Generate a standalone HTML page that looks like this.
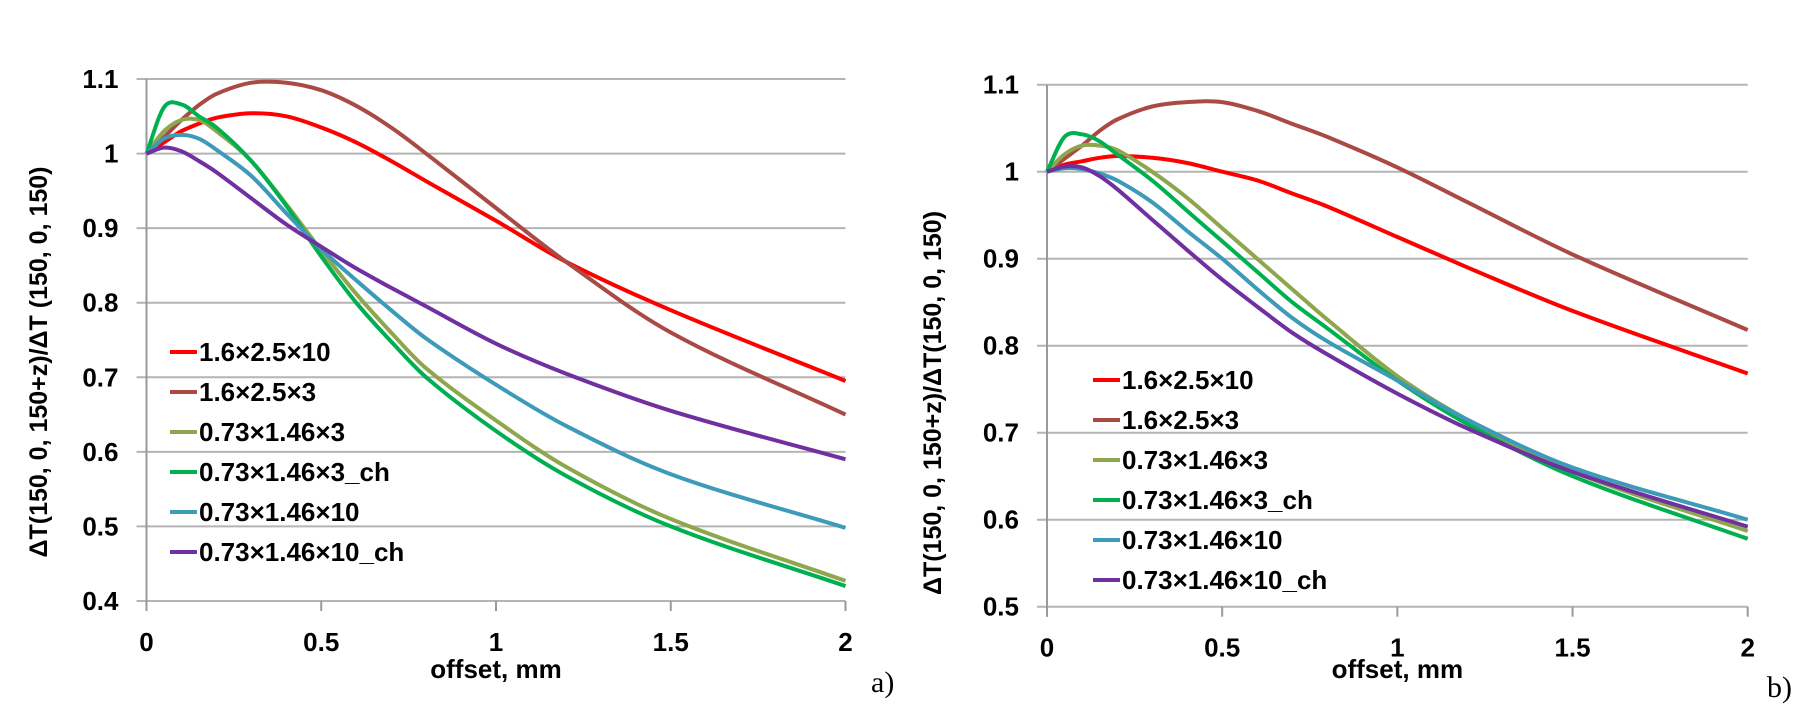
<!DOCTYPE html>
<html><head><meta charset="utf-8"><style>
html,body{margin:0;padding:0;background:#fff;}
svg{display:block;}
text{font-family:"Liberation Sans",sans-serif;font-weight:bold;fill:#000;}
</style></head><body>
<svg id="svg" width="1806" height="722" viewBox="0 0 1806 722" xmlns="http://www.w3.org/2000/svg"></svg>
<script>
const xs = [0,0.05,0.1,0.15,0.2,0.3,0.4,0.5,0.6,0.7,0.8,1.0,1.2,1.5,2.0];
const seriesNames = ["1.6×2.5×10","1.6×2.5×3","0.73×1.46×3","0.73×1.46×3_ch","0.73×1.46×10","0.73×1.46×10_ch"];
const seriesColors = ["#ff0000","#aa4a44","#8ea64c","#00b050","#3d9ab8","#7030a0"];
const aRed    = [1,1.015,1.03,1.04,1.048,1.054,1.05,1.035,1.015,0.99,0.963,0.91,0.855,0.79,0.695];
const aBrown  = [1,1.022,1.045,1.065,1.08,1.095,1.095,1.085,1.064,1.035,1.0,0.927,0.855,0.76,0.65];
const aOlive  = [1,1.03,1.045,1.045,1.03,0.99,0.932,0.87,0.812,0.76,0.712,0.642,0.58,0.51,0.427];
const aGreen  = [1,1.062,1.066,1.05,1.035,0.99,0.93,0.862,0.80,0.748,0.70,0.628,0.568,0.50,0.42];
const aBlue   = [1,1.02,1.025,1.02,1.005,0.97,0.92,0.872,0.83,0.79,0.752,0.69,0.635,0.57,0.498];
const aPurple = [1,1.008,1.003,0.99,0.975,0.94,0.905,0.875,0.846,0.82,0.795,0.745,0.705,0.655,0.59];
const bRed    = [1,1.008,1.012,1.016,1.018,1.016,1.01,1.0,0.99,0.975,0.96,0.925,0.89,0.84,0.768];
const bBrown  = [1,1.015,1.03,1.047,1.06,1.075,1.08,1.08,1.07,1.055,1.04,1.005,0.965,0.905,0.818];
const bOlive  = [1,1.02,1.03,1.03,1.025,1.0,0.97,0.935,0.9,0.865,0.83,0.765,0.715,0.655,0.587];
const bGreen  = [1,1.04,1.043,1.035,1.02,0.99,0.955,0.92,0.885,0.85,0.82,0.76,0.71,0.65,0.578];
const bBlue   = [1,1.004,1.003,0.998,0.99,0.965,0.932,0.9,0.865,0.832,0.805,0.76,0.715,0.66,0.6];
const bPurple = [1,1.006,1.005,0.995,0.98,0.945,0.91,0.876,0.845,0.815,0.79,0.745,0.705,0.655,0.592];
const xTicks = [0,0.5,1,1.5,2];
const xTickLabels = ["0","0.5","1","1.5","2"];
const aYTicks = [0.4,0.5,0.6,0.7,0.8,0.9,1,1.1];
const aYLabels = ["0.4","0.5","0.6","0.7","0.8","0.9","1","1.1"];
const bYTicks = [0.5,0.6,0.7,0.8,0.9,1,1.1];
const bYLabels = ["0.5","0.6","0.7","0.8","0.9","1","1.1"];

const NS="http://www.w3.org/2000/svg";
const svg=document.getElementById('svg');
function el(tag,attrs,parent,txt){const e=document.createElementNS(NS,tag);for(const k in attrs)e.setAttribute(k,attrs[k]);if(txt!==undefined)e.textContent=txt;(parent||svg).appendChild(e);return e;}
function path(xv,yv,X,Y){
 const n=xv.length,m=[];
 for(let i=0;i<n;i++){
  if(i===0)m.push((yv[1]-yv[0])/(xv[1]-xv[0]));
  else if(i===n-1)m.push((yv[n-1]-yv[n-2])/(xv[n-1]-xv[n-2]));
  else m.push((yv[i+1]-yv[i-1])/(xv[i+1]-xv[i-1]));
 }
 let d='M'+X(xv[0]).toFixed(1)+','+Y(yv[0]).toFixed(1);
 for(let i=0;i<n-1;i++){const h=xv[i+1]-xv[i];
  d+=' C'+X(xv[i]+h/3).toFixed(1)+','+Y(yv[i]+m[i]*h/3).toFixed(1)+' '+X(xv[i+1]-h/3).toFixed(1)+','+Y(yv[i+1]-m[i+1]*h/3).toFixed(1)+' '+X(xv[i+1]).toFixed(1)+','+Y(yv[i+1]).toFixed(1);}
 return d;}

function chart(cfg){
 const g=el('g',{});
 
 
 const X=v=>cfg.x0+v*(cfg.x2-cfg.x0)/2;
 const Y=v=>cfg.yTop+(cfg.yMax-v)*(cfg.yBot-cfg.yTop)/(cfg.yMax-cfg.yMin);
 cfg.yTicks.forEach((t,i)=>{
  const l=el('line',{x1:cfg.x0-10,x2:cfg.x2,y1:Y(t),y2:Y(t),stroke:'#b4b4b4','stroke-width':2},g);
  
  
  const tx=el('text',{x:cfg.x0-28,y:Y(t)+9,'text-anchor':'end','font-size':26},g,cfg.yLabels[i]);
  
  
 });
 const ax=el('line',{x1:cfg.x0,x2:cfg.x0,y1:cfg.yTop,y2:cfg.yBot+10,stroke:'#9a9a9a','stroke-width':2},g);
 
 
 xTicks.forEach((t,i)=>{
  const l=el('line',{x1:X(t),x2:X(t),y1:cfg.yBot,y2:cfg.yBot+10,stroke:'#9a9a9a','stroke-width':2},g);
  
  
  const tx=el('text',{x:X(t),y:cfg.yBot+50,'text-anchor':'middle','font-size':26},g,xTickLabels[i]);
  
  
 });
 cfg.series.forEach((s,i)=>{
  const p=el('path',{d:path(xs,s,X,Y),fill:'none',stroke:seriesColors[i],'stroke-width':4,'stroke-linejoin':'round'},g);
  
  
 });
 seriesNames.forEach((n,i)=>{
  const yy=cfg.legY+i*40;
  const le=el('g',{},g);
  
  
  el('line',{x1:cfg.legX,x2:cfg.legX+27,y1:yy,y2:yy,stroke:seriesColors[i],'stroke-width':4},le);
  el('text',{x:cfg.legX+29,y:yy+9,'font-size':26},le,n);
 });
 const yt=el('text',{x:0,y:0,'text-anchor':'middle','font-size':25,'font-weight':'normal',transform:'translate('+cfg.ytX+','+cfg.ytY+') rotate(-90)'},g,cfg.yTitle);
 
 
 const xt=el('text',{x:(cfg.x0+cfg.x2)/2,y:678,'text-anchor':'middle','font-size':26},g,'offset, mm');
 
 
 const pl=el('text',{x:cfg.plX,y:cfg.plY,'font-size':30,style:'font-family:"Liberation Serif",serif;font-weight:normal'},g,cfg.panel);
 
 
}
chart({name:'chart-a',x0:146.5,x2:845.5,yTop:79,yBot:601,yMin:0.4,yMax:1.1,yTicks:aYTicks,yLabels:aYLabels,
 series:[aRed,aBrown,aOlive,aGreen,aBlue,aPurple],legX:170,legY:352,ytX:47,ytY:362,
 yTitle:'ΔT(150, 0, 150+z)/ΔT (150, 0, 150)',panel:'a)',plX:871,plY:692});
chart({name:'chart-b',x0:1047,x2:1747.7,yTop:84.7,yBot:606.7,yMin:0.5,yMax:1.1,yTicks:bYTicks,yLabels:bYLabels,
 series:[bRed,bBrown,bOlive,bGreen,bBlue,bPurple],legX:1093,legY:380,ytX:941,ytY:403,
 yTitle:'ΔT(150, 0, 150+z)/ΔT(150, 0, 150)',panel:'b)',plX:1767,plY:697});
</script>
</body></html>
